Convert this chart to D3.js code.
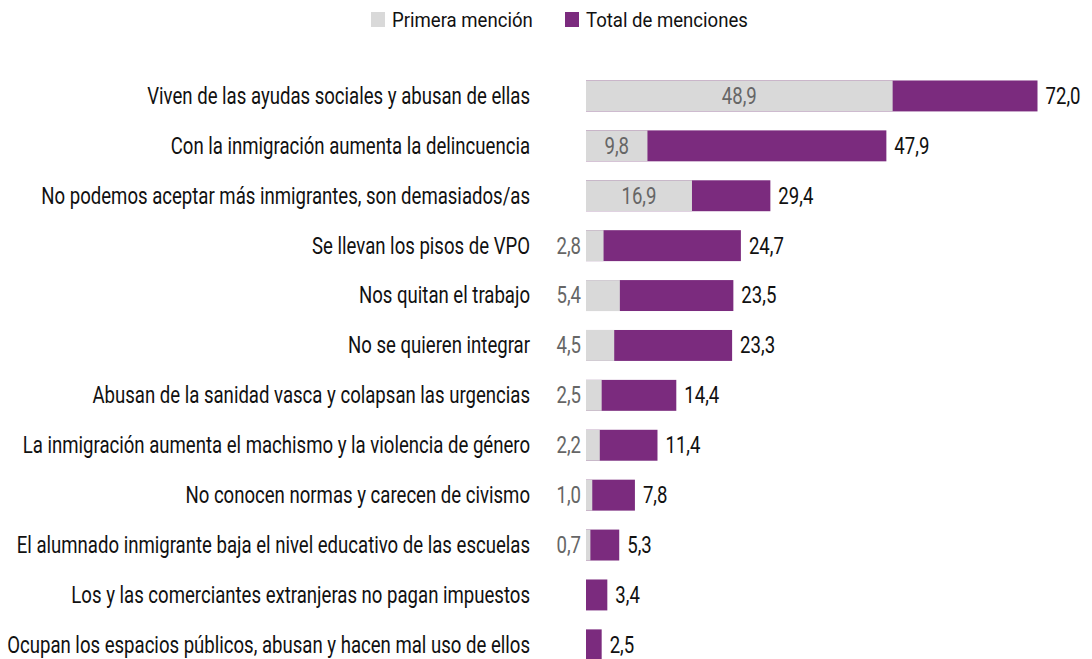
<!DOCTYPE html>
<html>
<head>
<meta charset="utf-8">
<script src="https://cdn.jsdelivr.net/npm/d3@7"></script>
<style>
  body { margin: 0; background: #fff; }
  svg text { font-family: Roboto, "Noto Sans", sans-serif; font-size: 24px; }
  .label { fill: #111; }
  .first { fill: #666; }
  .total { fill: #111; }
  .legend text { font-size: 21px; fill: #111; }
</style>
</head>
<body>
<svg width="1092" height="659"></svg>
<script>
const categories = [
  "Viven de las ayudas sociales y abusan de ellas",
  "Con la inmigración aumenta la delincuencia",
  "No podemos aceptar más inmigrantes, son demasiados/as",
  "Se llevan los pisos de VPO",
  "Nos quitan el trabajo",
  "No se quieren integrar",
  "Abusan de la sanidad vasca y colapsan las urgencias",
  "La inmigración aumenta el machismo y la violencia de género",
  "No conocen normas y carecen de civismo",
  "El alumnado inmigrante baja el nivel educativo de las escuelas",
  "Los y las comerciantes extranjeras no pagan impuestos",
  "Ocupan los espacios públicos, abusan y hacen mal uso de ellos"
];
const firstMention = [48.9, 9.8, 16.9, 2.8, 5.4, 4.5, 2.5, 2.2, 1.0, 0.7, null, null];
const totalMentions = [72.0, 47.9, 29.4, 24.7, 23.5, 23.3, 14.4, 11.4, 7.8, 5.3, 3.4, 2.5];
const seriesNames = ["Primera mención", "Total de menciones"];
const colors = ["#d9d9d9", "#7b2b7e"];

const fmt = v => v.toFixed(1).replace(".", ",");

const svg = d3.select("svg");

// the source font is a condensed face: squeeze every text horizontally
const probe = svg.append("text").text(categories[11]);
const k = 523 / probe.node().getComputedTextLength();
probe.remove();
const kLegend = k * 24 / 21;
const place = (xp, yp, s = k) => `translate(${xp}, ${yp}) scale(${s}, 1)`;

const x = d3.scaleLinear().domain([0, 72]).range([586, 1037.5]);
const y = d3.scaleBand()
  .domain(categories)
  .range([71, 71 + 12 * 49.9])
  .paddingInner(0.38)
  .paddingOuter(0.19);

const data = categories.map((c, i) => ({ cat: c, first: firstMention[i], total: totalMentions[i] }));
const mid = y.bandwidth() / 2;

const rows = svg.append("g").selectAll("g")
  .data(data)
  .join("g")
    .attr("transform", d => `translate(0, ${y(d.cat)})`);

rows.append("rect")
  .attr("x", x(0))
  .attr("width", d => x(d.total) - x(0))
  .attr("height", y.bandwidth())
  .attr("fill", colors[1]);

rows.filter(d => d.first != null).append("rect")
  .attr("x", x(0))
  .attr("width", d => x(d.first) - x(0))
  .attr("height", y.bandwidth())
  .attr("fill", colors[0]);

rows.append("text")
  .attr("class", "label")
  .attr("transform", place(530, mid))
  .attr("dy", "0.33em")
  .attr("text-anchor", "end")
  .text(d => d.cat);

rows.append("text")
  .attr("class", "total")
  .attr("transform", d => place(x(d.total) + 8, mid))
  .attr("dy", "0.33em")
  .text(d => fmt(d.total));

const inside = d => (x(d.first) - x(0)) > 45;

rows.filter(d => d.first != null).append("text")
  .attr("class", "first")
  .attr("transform", d => place(inside(d) ? (x(0) + x(d.first)) / 2 : x(0) - 5, mid))
  .attr("text-anchor", d => inside(d) ? "middle" : "end")
  .attr("dy", "0.33em")
  .text(d => fmt(d.first));

// legend
const legend = svg.append("g")
  .attr("class", "legend")
  .attr("transform", "translate(371, 12)");
const items = legend.selectAll("g")
  .data(seriesNames)
  .join("g")
    .attr("transform", (d, i) => `translate(${i * 194}, 0)`);
items.append("rect")
  .attr("width", 14)
  .attr("height", 15)
  .attr("fill", (d, i) => colors[i]);
items.append("text")
  .attr("transform", place(21, 7.5, kLegend))
  .attr("dy", "0.35em")
  .text(d => d);
</script>
</body>
</html>
